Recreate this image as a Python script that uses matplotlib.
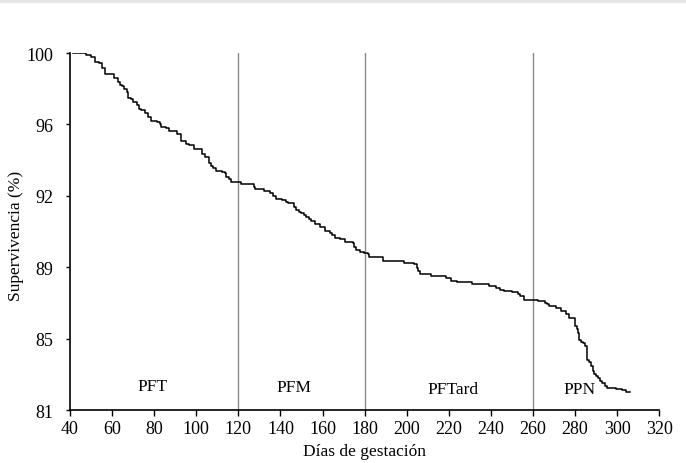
import matplotlib.pyplot as plt
import numpy as np
from matplotlib.patches import Rectangle

# step points: day of the drop, survival (%) after the drop
dias = [41.6, 47.4, 49.8, 52.0, 54.0, 55.0, 56.6, 59.5, 60.9, 63.0, 63.9, 64.9,
        65.7, 66.9, 67.7, 68.8, 69.8, 71.7, 72.8, 73.7, 75.6, 77.2, 78.5, 81.5,
        82.6, 83.4, 85.5, 87.1, 91.0, 92.8, 95.0, 96.4, 98.9, 102.9, 104.2, 105.9,
        106.9, 108.1, 109.5, 112.1, 113.5, 114.3, 115.4, 116.7, 121.1, 127.5, 128.1,
        130.2, 132.4, 135.2, 136.3, 137.9, 140.8, 142.5, 143.5, 146.5, 147.6, 148.8,
        149.9, 151.2, 152.3, 153.4, 154.7, 156.6, 159.0, 161.2, 163.4, 164.5, 165.8,
        168.5, 170.6, 174.4, 174.8, 175.9, 177.8, 179.7, 181.5, 182.1, 188.9, 198.9,
        203.6, 204.8, 205.5, 206.3, 211.4, 218.7, 220.9, 223.8, 231.1, 239.0, 242.5,
        244.4, 246.0, 250.1, 253.0, 253.9, 255.8, 262.2, 265.8, 266.7, 267.8, 271.0,
        273.4, 275.9, 277.1, 280.0, 280.7, 281.3, 282.1, 282.9, 283.8, 284.9, 285.7,
        286.5, 287.5, 288.4, 289.2, 290.0, 290.8, 291.9, 293.0, 294.1, 295.2, 299.4,
        302.2, 304.1, 306.2]
superv = [100.0, 99.90, 99.77, 99.50, 99.47, 99.20, 98.90, 98.87, 98.67, 98.47, 98.31, 98.23,
          98.07, 97.94, 97.59, 97.54, 97.38, 97.22, 97.04, 96.95, 96.82, 96.60, 96.38, 96.33,
          96.22, 96.06, 95.99, 95.85, 95.67, 95.30, 95.16, 95.09, 94.87, 94.64, 94.48, 94.16,
          94.00, 93.88, 93.74, 93.68, 93.60, 93.42, 93.29, 93.14, 93.01, 92.89, 92.78,
          92.75, 92.66, 92.55, 92.37, 92.23, 92.16, 92.05, 92.00, 91.79, 91.64, 91.55,
          91.47, 91.38, 91.25, 91.17, 91.06, 90.90, 90.72, 90.54, 90.44, 90.33, 90.14,
          90.08, 89.96, 89.87, 89.66, 89.52, 89.41, 89.36, 89.29, 89.13, 88.93, 88.82,
          88.77, 88.54, 88.40, 88.24, 88.13, 88.01, 87.88, 87.80, 87.71, 87.60, 87.51,
          87.40, 87.35, 87.28, 87.17, 87.05, 86.87, 86.80, 86.71, 86.64, 86.52, 86.41,
          86.29, 86.09, 85.91, 85.45, 85.31, 85.08, 84.73, 84.64, 84.57, 84.42, 83.68,
          83.57, 83.36, 83.07, 82.93, 82.79, 82.68, 82.56, 82.44, 82.29, 82.15, 82.12,
          82.06, 81.97, 81.97]

cortes = [120, 180, 260]
periodos = ['PFT', 'PFM', 'PFTard', 'PPN']
periodo_x = [79.4, 146.5, 221.9, 281.9]
periodo_y = [82.3, 82.25, 82.1, 82.1]

plt.rcParams['font.family'] = ['Liberation Serif', 'DejaVu Serif']
plt.rcParams['font.size'] = 12

fig = plt.figure(figsize=(6.86, 4.64), dpi=100)
fig.patches.append(Rectangle((0, 1 - 3 / 464), 1, 3 / 464, transform=fig.transFigure,
                             color='#e6e6e6', zorder=0))
ax = fig.add_axes([0.102, 0.1142, 0.859, 0.7694])

ax.step(dias, superv, where='post', color='black', lw=1.1)
for c in cortes:
    ax.axvline(c, color='#8c8c8c', lw=1.0, zorder=1)
for t, x, y in zip(periodos, periodo_x, periodo_y):
    ax.text(x, y, t, ha='center', va='center', fontsize=12.5)

ax.set_xlim(40, 320)
ax.set_ylim(81, 100)
ax.set_xticks(np.arange(40, 321, 20))
yt = np.linspace(81, 100, 6)
ax.set_yticks(yt)
ax.set_yticklabels([f'{v:.0f}' for v in yt])
ax.tick_params(direction='out', length=4, width=1, colors='black', labelsize=13)
ax.tick_params(axis='y', length=3, pad=9)
for s in ['top', 'right']:
    ax.spines[s].set_visible(False)
for s in ['left', 'bottom']:
    ax.spines[s].set_linewidth(1.2)

ax.set_xlabel('Días de gestación', fontsize=12.5, labelpad=4)
ax.set_ylabel('Supervivencia (%)', fontsize=12.5)
ax.yaxis.set_label_coords(-0.078, 0.49)

fig.savefig('out.png', dpi=100)
